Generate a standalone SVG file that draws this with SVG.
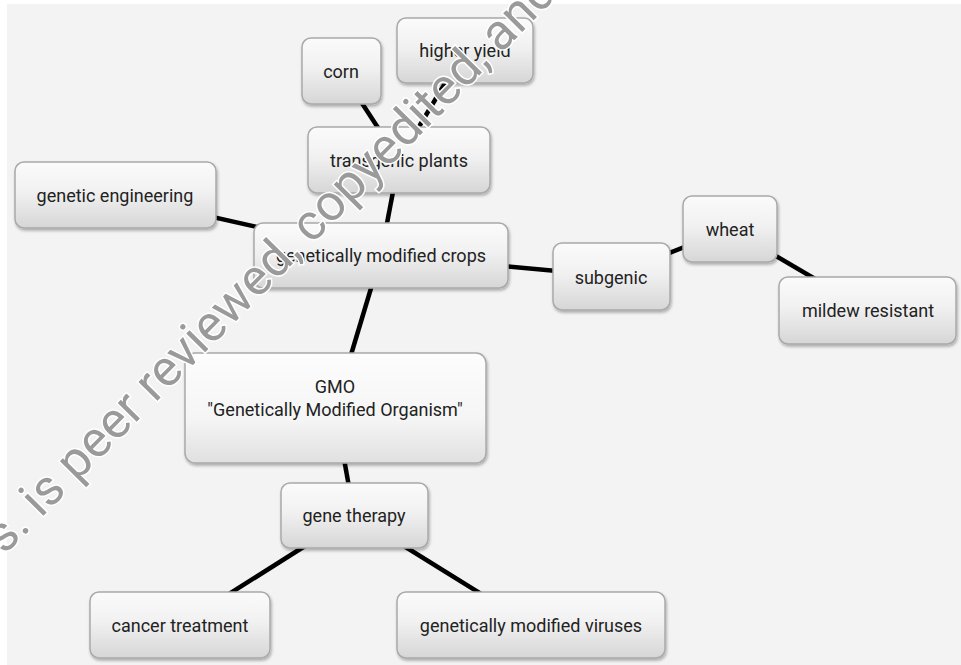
<svg xmlns="http://www.w3.org/2000/svg" width="961" height="665" viewBox="0 0 961 665">
<defs>
<linearGradient id="g" x1="0" y1="0" x2="0" y2="1">
<stop offset="0" stop-color="#fbfbfb"/>
<stop offset="0.45" stop-color="#f1f1f1"/>
<stop offset="1" stop-color="#d6d6d6"/>
</linearGradient>
<linearGradient id="g2" x1="0" y1="0" x2="0" y2="1">
<stop offset="0" stop-color="#fdfdfd"/>
<stop offset="0.6" stop-color="#f5f5f5"/>
<stop offset="1" stop-color="#e0e0e0"/>
</linearGradient>
<filter id="sh" x="-10%" y="-10%" width="125%" height="135%">
<feGaussianBlur in="SourceAlpha" stdDeviation="1.5"/>
<feOffset dx="1" dy="2" result="b"/>
<feComponentTransfer><feFuncA type="linear" slope="0.3"/></feComponentTransfer>
<feMerge><feMergeNode/><feMergeNode in="SourceGraphic"/></feMerge>
</filter>
</defs>
<style>
.n rect{fill:url(#g);stroke:#a9a9a9;stroke-width:1.5;filter:url(#sh)}
.n text{font-family:Roboto,"Liberation Sans",sans-serif;font-size:18px;fill:#222;text-anchor:middle}
.c line{stroke:#000;stroke-width:4.5;stroke-linecap:butt}
.wm{font-family:Roboto,"Liberation Sans",sans-serif;font-size:50.5px;fill:#9a9a9a;stroke:#fff;stroke-width:3;paint-order:stroke;}
</style>
<rect x="0" y="0" width="961" height="665" fill="#fff"/>
<rect x="7" y="4" width="954" height="661" fill="#f3f3f3"/>
<g id="connectors" class="c">
<line x1="341" y1="71" x2="399" y2="160"/>
<line x1="465" y1="50" x2="399" y2="160"/>
<line x1="399" y1="160" x2="381" y2="255"/>
<line x1="115" y1="195" x2="381" y2="255"/>
<line x1="381" y1="255" x2="335" y2="408"/>
<line x1="381" y1="255" x2="611" y2="276"/>
<line x1="611" y1="276" x2="730" y2="229"/>
<line x1="730" y1="229" x2="868" y2="310"/>
<line x1="335" y1="408" x2="354" y2="515"/>
<line x1="354" y1="515" x2="180" y2="625"/>
<line x1="354" y1="515" x2="531" y2="625"/>
</g>
<g id="corn" class="n"><rect x="302" y="38" width="79" height="66" rx="9"/><text x="341" y="78">corn</text></g>
<g id="higher-yield" class="n"><rect x="397" y="18" width="136" height="65" rx="9"/><text x="465" y="57">higher yield</text></g>
<g id="transgenic-plants" class="n"><rect x="308" y="127" width="182" height="66" rx="9"/><text x="399" y="167">transgenic plants</text></g>
<g id="genetic-engineering" class="n"><rect x="15" y="162" width="201" height="66" rx="9"/><text x="115" y="202">genetic engineering</text></g>
<g id="gm-crops" class="n"><rect x="254" y="223" width="254" height="65" rx="9"/><text x="381" y="262">genetically modified crops</text></g>
<g id="subgenic" class="n"><rect x="553" y="243" width="117" height="67" rx="9"/><text x="611" y="284">subgenic</text></g>
<g id="wheat" class="n"><rect x="683" y="196" width="94" height="66" rx="9"/><text x="730" y="236">wheat</text></g>
<g id="mildew-resistant" class="n"><rect x="779" y="277" width="177" height="67" rx="9"/><text x="868" y="317">mildew resistant</text></g>
<g id="gmo" class="n"><rect x="185" y="353" width="301" height="110" rx="10" style="fill:url(#g2)"/><text x="335" y="393">GMO</text><text x="335" y="416">"Genetically Modified Organism"</text></g>
<g id="gene-therapy" class="n"><rect x="281" y="483" width="147" height="65" rx="9"/><text x="354" y="522">gene therapy</text></g>
<g id="cancer-treatment" class="n"><rect x="90" y="592" width="180" height="66" rx="9"/><text x="180" y="632">cancer treatment</text></g>
<g id="gm-viruses" class="n"><rect x="397" y="592" width="268" height="66" rx="9"/><text x="531" y="632">genetically modified viruses</text></g>
<text class="wm" transform="translate(-14,574) rotate(-45.3)">ss. is peer reviewed, copyedited, and</text>
</svg>
